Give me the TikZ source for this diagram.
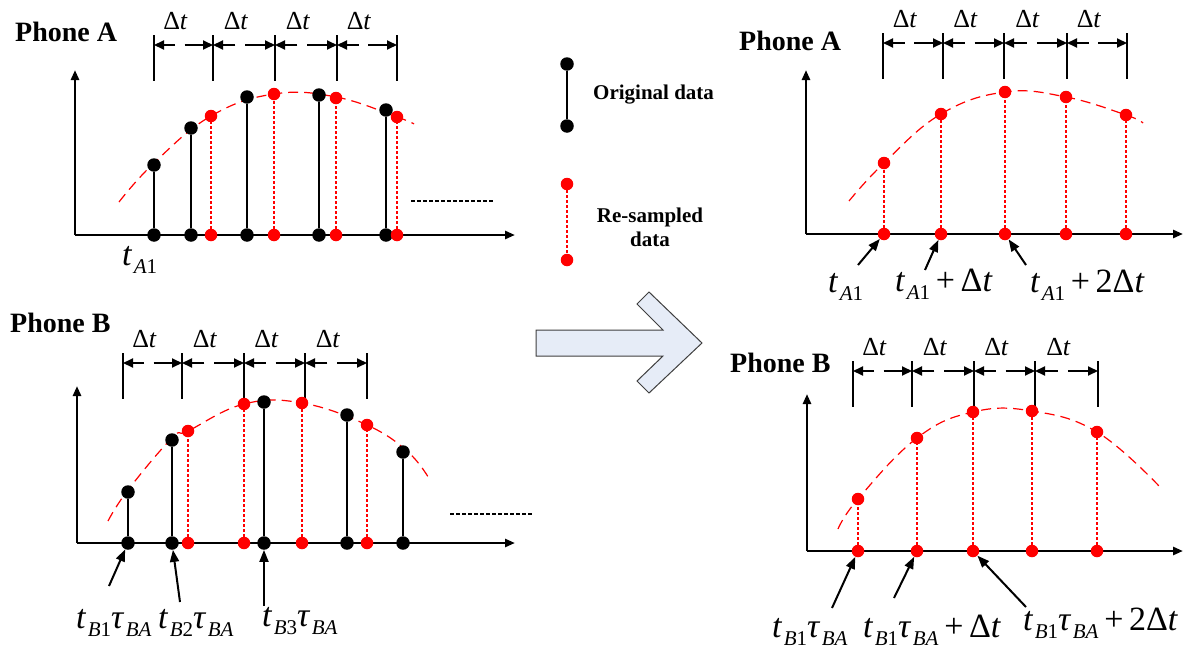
\documentclass[tikz,border=0pt]{standalone}
\usepackage{fontspec}
\setmainfont{Liberation Serif}
\usetikzlibrary{arrows.meta}
\definecolor{cred}{HTML}{FF0000}
\definecolor{cbigfill}{HTML}{E6ECF7}
\definecolor{cbigdraw}{HTML}{3F3F3F}
\newcommand{\lblfont}{\fontsize{34}{36}\selectfont}
\newcommand{\tsub}[2]{\textit{#1}\kern1.5pt\raisebox{-0.24em}{\fontsize{21}{22}\selectfont#2}}
\newcommand{\deltarow}[3]{%
  \foreach \xa/\xb in {#3} {
    \draw[tick] (\xa,#2-10) -- (\xa,#2+36);
    \draw[tick] (\xb,#2-10) -- (\xb,#2+36);
    \draw[dtarrow] ({\xa+0.36*(\xb-\xa)},#2) -- (\xa,#2);
    \draw[dtarrow] ({\xa+0.52*(\xb-\xa)},#2) -- (\xb,#2);
    \node[dtlabel] (#1\xa) at ({(\xa+\xb)/2-8},#2-24) {Δ\textit{t}};
  }}
\tikzset{
  axis/.style={-{Triangle[length=10pt, width=8pt]}, line width=2.5pt},
  tick/.style={line width=1.2pt},
  dtarrow/.style={-{Triangle[length=10pt, width=9pt]}, line width=2pt},
  dtlabel/.style={font=\fontsize{26}{27}\selectfont, inner sep=0pt},
  odot/.style={circle, fill=black, inner sep=0pt, minimum size=13.5pt},
  rdot/.style={circle, fill=cred, inner sep=0pt, minimum size=12.5pt},
  ostem/.style={line width=2pt},
  rstem/.style={cred, line width=2.4pt, dash pattern=on 3pt off 2pt},
  fitcurve/.style={cred, line width=1.2pt, dash pattern=on 10pt off 6pt},
  more/.style={line width=1.6pt, dash pattern=on 4pt off 2pt},
  phone/.style={font=\bfseries\fontsize{28}{30}\selectfont, anchor=base west, inner sep=0pt},
  legend/.style={font=\bfseries\fontsize{21}{24}\selectfont, align=center, inner sep=0pt},
  tlabel/.style={font=\lblfont, anchor=base west, inner sep=0pt},
  lblarrow/.style={-{Triangle[length=12pt, width=9pt]}, line width=2pt},
}
\begin{document}
\begin{tikzpicture}[x=1pt, y=-1pt]
  \useasboundingbox (0,0) rectangle (1184,653);

  % ---- Phone A, original data
  \node[phone] (phoneA) at (15,41) {Phone A};
  \deltarow{ta}{45}{154/213,213/275,275/337,337/397}
  \draw[axis] (75,235) -- (75,70);
  \draw[axis] (75,235) -- (515,235);
  \draw[fitcurve] plot[smooth, tension=0.7] coordinates {(119,202) (154,163) (211,116) (274,94) (336,97) (397,117) (414,124)};
  \foreach \x/\y [count=\i] in {154/165,191/128,247/97,319/95,386/110} {
    \node[odot] (ao\i) at (\x,\y) {};
    \node[odot] (ab\i) at (\x,235) {};
    \draw[ostem] (ab\i) -- (ao\i);
  }
  \foreach \x/\y [count=\i] in {211/116,274/94,336/98,397/117} {
    \node[rdot] (ar\i) at (\x,\y) {};
    \node[rdot] (arb\i) at (\x,235) {};
    \draw[rstem] (arb\i) -- (ar\i);
  }
  \draw[more] (411,201) -- (493,201);
  \node[tlabel] (tA) at (122,265) {\tsub{t}{\textit{A}1}};

  % ---- Phone B, original data
  \node[phone] (phoneB) at (10,332) {Phone B};
  \deltarow{tb}{363}{123/182,182/244,244/305,305/367}
  \draw[axis] (77,543) -- (77,386);
  \draw[axis] (77,543) -- (515,543);
  \draw[fitcurve] plot[smooth, tension=0.7] coordinates {(108,521) (128,490) (172,438) (188,431) (244,404) (302,403) (367,425) (408,452) (430,480)};
  \foreach \x/\y [count=\i] in {128/492,172/440,264/402,347/415,403/452} {
    \node[odot] (bo\i) at (\x,\y) {};
    \node[odot] (bb\i) at (\x,543) {};
    \draw[ostem] (bb\i) -- (bo\i);
  }
  \foreach \x/\y [count=\i] in {188/431,244/404,302/403,367/425} {
    \node[rdot] (br\i) at (\x,\y) {};
    \node[rdot] (brb\i) at (\x,543) {};
    \draw[rstem] (brb\i) -- (br\i);
  }
  \draw[more] (450,514) -- (533,514);
  \node[tlabel] (tB1) at (76,628) {\tsub{t}{\textit{B}1}\tsub{τ}{\textit{BA}}};
  \node[tlabel] (tB2) at (158,628) {\tsub{t}{\textit{B}2}\tsub{τ}{\textit{BA}}};
  \node[tlabel] (tB3) at (262,626) {\tsub{t}{\textit{B}3}\tsub{τ}{\textit{BA}}};
  \coordinate (tB1tail) at (109,586);
  \coordinate (tB2tail) at (180,602);
  \coordinate (tB3tail) at (264,606);
  \draw[lblarrow] (tB1tail) -- (bb1);
  \draw[lblarrow] (tB2tail) -- (bb2);
  \draw[lblarrow] (tB3tail) -- (bb3);

  % ---- legend
  \node[odot] (lo1) at (567,64) {};
  \node[odot] (lo2) at (567,126) {};
  \draw[ostem] (lo1) -- (lo2);
  \node[legend, anchor=west] (lorig) at (593,95) {Original data};
  \node[rdot] (lr1) at (567,184) {};
  \node[rdot] (lr2) at (567,260) {};
  \draw[rstem] (lr1) -- (lr2);
  \node[legend] (lres) at (650,227) {Re-sampled\\data};

  % ---- big arrow
  \draw[cbigdraw, fill=cbigfill, line width=1pt] (536,330) -- (663,330) -- (637,304) -- (649,292) -- (702,343)
    -- (649,393) -- (637,381) -- (663,356) -- (536,356) -- cycle;

  % ---- Phone A, re-sampled
  \node[phone] (phoneAr) at (739,50) {Phone A};
  \deltarow{ra}{43}{883/943,943/1004,1004/1067,1067/1127}
  \draw[axis] (806,234) -- (806,70);
  \draw[axis] (806,234) -- (1183,234);
  \draw[fitcurve] plot[smooth, tension=0.7] coordinates {(849,201) (884,163) (941,114) (1005,92) (1066,97) (1126,115) (1143,123)};
  \foreach \x/\y [count=\i] in {884/163,941/114,1005/92,1066/97,1126/115} {
    \node[rdot] (cr\i) at (\x,\y) {};
    \node[rdot] (crb\i) at (\x,234) {};
    \draw[rstem] (crb\i) -- (cr\i);
  }
  \node[tlabel] (rA1) at (828,292) {\tsub{t}{\textit{A}1}};
  \node[tlabel] (rA2) at (895,291) {\tsub{t}{\textit{A}1}\,+\,Δ\textit{t}};
  \node[tlabel] (rA3) at (1030,292) {\tsub{t}{\textit{A}1}\,+\,2Δ\textit{t}};
  \coordinate (rA1tail) at (858,265);
  \coordinate (rA2tail) at (925,270);
  \coordinate (rA3tail) at (1026,265);
  \draw[lblarrow] (rA1tail) -- (crb1);
  \draw[lblarrow] (rA2tail) -- (crb2);
  \draw[lblarrow] (rA3tail) -- (crb3);

  % ---- Phone B, re-sampled
  \node[phone] (phoneBr) at (730,372) {Phone B};
  \deltarow{rb}{371}{853/912,912/974,974/1035,1035/1098}
  \draw[axis] (807,551) -- (807,394);
  \draw[axis] (807,551) -- (1183,551);
  \draw[fitcurve] plot[smooth, tension=0.7] coordinates {(838,529) (858,499) (917,438) (973,412) (1032,411) (1097,432) (1160,487)};
  \foreach \x/\y [count=\i] in {858/499,917/438,973/412,1032/411,1097/432} {
    \node[rdot] (dr\i) at (\x,\y) {};
    \node[rdot] (drb\i) at (\x,551) {};
    \draw[rstem] (drb\i) -- (dr\i);
  }
  \node[tlabel] (rB1) at (772,637) {\tsub{t}{\textit{B}1}\tsub{τ}{\textit{BA}}};
  \node[tlabel] (rB2) at (863,637) {\tsub{t}{\textit{B}1}\tsub{τ}{\textit{BA}}\,+\,Δ\textit{t}};
  \node[tlabel] (rB3) at (1023,630) {\tsub{t}{\textit{B}1}\tsub{τ}{\textit{BA}}\,+\,2Δ\textit{t}};
  \coordinate (rB1tail) at (832,608);
  \coordinate (rB2tail) at (894,598);
  \coordinate (rB3tail) at (1026,607);
  \draw[lblarrow] (rB1tail) -- (drb1);
  \draw[lblarrow] (rB2tail) -- (drb2);
  \draw[lblarrow] (rB3tail) -- (drb3);
\end{tikzpicture}
\end{document}
